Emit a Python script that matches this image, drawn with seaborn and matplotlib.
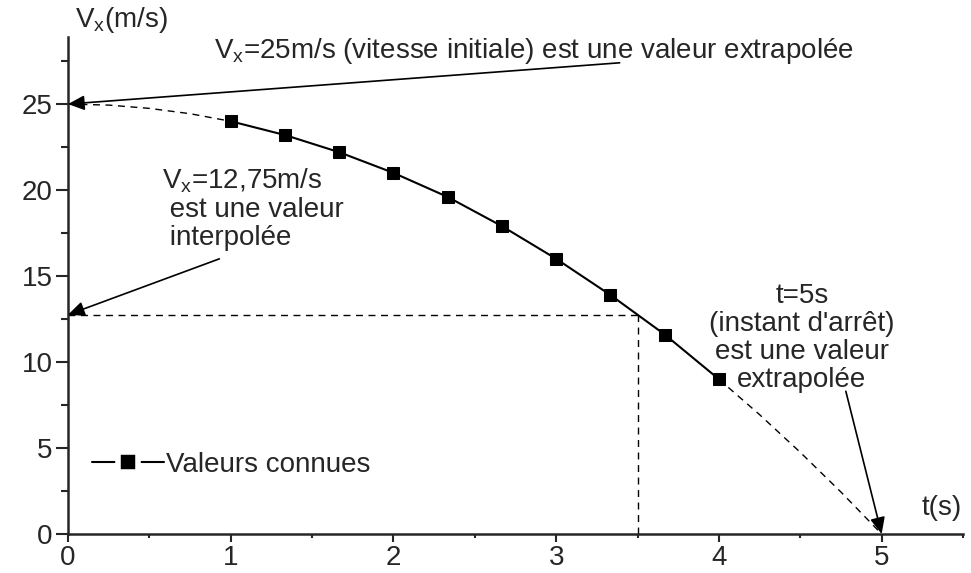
import matplotlib
matplotlib.use("Agg")
import matplotlib.pyplot as plt
from matplotlib.lines import Line2D
from matplotlib.ticker import MultipleLocator
import seaborn as sns
import pandas as pd

# Measured velocities (known values)
t_known = [1.0, 1.333, 1.667, 2.0, 2.333, 2.667, 3.0, 3.333, 3.667, 4.0]
v_known = [24.0, 23.2, 22.2, 21.0, 19.6, 17.9, 16.0, 13.9, 11.6, 9.0]

# Extrapolated portions of the curve (dashed)
t_start = [0.0, 0.25, 0.5, 0.75, 1.0]
v_start = [25.0, 24.94, 24.75, 24.44, 24.0]
t_end = [4.0, 4.25, 4.5, 4.75, 5.0]
v_end = [9.0, 6.94, 4.75, 2.44, 0.0]

# Interpolated reading
t_interp = 3.5
v_interp = 12.75

sns.set_style("ticks")
plt.rcParams["font.family"] = ["Liberation Sans", "DejaVu Sans"]
plt.rcParams["mathtext.fontset"] = "custom"
plt.rcParams["mathtext.rm"] = "Liberation Sans"
plt.rcParams["mathtext.it"] = "Liberation Sans"

FS = 20

fig = plt.figure(figsize=(9.71, 5.73), dpi=100)
ax = fig.add_axes([68 / 971, 39 / 573, 895 / 971, 497 / 573])

known = pd.DataFrame({"t": t_known, "v": v_known})
sns.lineplot(data=known, x="t", y="v", ax=ax, color="black", lw=1.5,
             marker="s", markersize=9, markeredgecolor="black", legend=False)

for tt, vv in ((t_start, v_start), (t_end, v_end)):
    sns.lineplot(x=tt, y=vv, ax=ax, color="black", lw=1.0,
                 linestyle=(0, (5, 4)), legend=False)

ax.plot([0, t_interp], [v_interp, v_interp], color="black", lw=1.0,
        linestyle=(0, (5, 4)))
ax.plot([t_interp, t_interp], [0, v_interp], color="black", lw=1.0,
        linestyle=(0, (5, 4)))

ax.set_xlim(0, 5.5)
ax.set_ylim(0, 28.9)
ax.xaxis.set_major_locator(MultipleLocator(1))
ax.xaxis.set_minor_locator(MultipleLocator(0.5))
ax.yaxis.set_major_locator(MultipleLocator(5))
ax.yaxis.set_minor_locator(MultipleLocator(2.5))
ax.tick_params(axis="x", which="major", length=6, width=1.5, pad=2, labelsize=FS)
ax.tick_params(axis="x", which="minor", length=3, width=1.5)
ax.tick_params(axis="y", which="major", length=9, width=1.5, pad=2, labelsize=FS)
ax.tick_params(axis="y", which="minor", length=5, width=1.5)
for side in ("top", "right"):
    ax.spines[side].set_visible(False)
for side in ("left", "bottom"):
    ax.spines[side].set_linewidth(1.8)
ax.set_xlabel("")
ax.set_ylabel("")

fig.text(75 / 971, 1 - 20 / 573, r"V$_\mathregular{x}$(m/s)", fontsize=FS,
         ha="left", va="center")
fig.text(922 / 971, 1 - 508 / 573, "t(s)", fontsize=FS, ha="left", va="center")

arrow = dict(arrowstyle="-|>,head_length=1.0,head_width=0.45", color="black",
             lw=1.2, shrinkA=0, shrinkB=0)

ax.annotate("", xy=(0, 25), xytext=(3.39, 27.4), arrowprops=arrow)
ax.text(0.9, 28.1,
        r"V$_\mathregular{x}$=25m/s (vitesse initiale) est une valeur extrapolée",
        fontsize=FS, ha="left", va="center")

ax.annotate("", xy=(0, v_interp), xytext=(0.93, 16.0), arrowprops=arrow)
ax.text(0.58, 18.9,
        "V$_\\mathregular{x}$=12,75m/s\n est une valeur\n interpolée",
        fontsize=FS, ha="left", va="center", linespacing=1.1)

ax.annotate("", xy=(5, 0), xytext=(4.78, 8.3), arrowprops=arrow)
ax.text(4.51, 11.4, "t=5s\n(instant d'arrêt)\nest une valeur\nextrapolée",
        fontsize=FS, ha="center", va="center", linespacing=1.1)

legend_handle = Line2D([], [], color="black", lw=1.5, marker="s",
                       markersize=14, markerfacecolor="black",
                       markeredgecolor="white", markeredgewidth=4)
ax.legend(handles=[legend_handle], labels=["Valeurs connues"],
          loc="center left", bbox_to_anchor=((92 - 68) / 895, (534 - 465) / 497),
          frameon=False, fontsize=FS, handlelength=2.6, handletextpad=0.05,
          borderaxespad=0, borderpad=0)

fig.savefig("out.png", dpi=100)
